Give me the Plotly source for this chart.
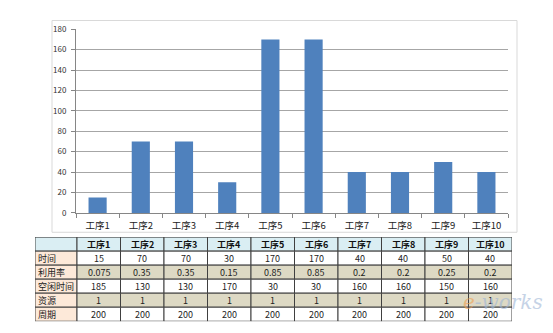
import plotly.graph_objects as go

categories = ["工序1", "工序2", "工序3", "工序4", "工序5", "工序6", "工序7", "工序8", "工序9", "工序10"]
time_vals = [15, 70, 70, 30, 170, 170, 40, 40, 50, 40]
util_vals = ["0.075", "0.35", "0.35", "0.15", "0.85", "0.85", "0.2", "0.2", "0.25", "0.2"]
idle_vals = [185, 130, 130, 170, 30, 30, 160, 160, 150, 160]
res_vals = [1, 1, 1, 1, 1, 1, 1, 1, 1, 1]
cycle_vals = [200, 200, 200, 200, 200, 200, 200, 200, 200, 200]
row_labels = ["时间", "利用率", "空闲时间", "资源", "周期"]
y_ticks = [0, 20, 40, 60, 80, 100, 120, 140, 160, 180]

W, H = 553, 333
FONT = "Noto Sans CJK SC, DejaVu Sans, sans-serif"

fig = go.Figure()

fig.add_trace(go.Bar(
    x=categories, y=time_vals,
    marker=dict(color="#4F81BD", line=dict(width=0)),
    width=0.42,
    showlegend=False,
    xaxis="x", yaxis="y",
))

# ---- table drawn on its own axes (x2 / y2) ----
col_widths = [42] + [43.5] * len(categories)
edges = [0]
for w in col_widths:
    edges.append(edges[-1] + w)
n_rows = 1 + len(row_labels)

rows = [[""] + [f"<b>{c}</b>" for c in categories]]
data_rows = [
    [str(v) for v in time_vals],
    list(util_vals),
    [str(v) for v in idle_vals],
    [str(v) for v in res_vals],
    [str(v) for v in cycle_vals],
]
for lab, vals in zip(row_labels, data_rows):
    rows.append([lab] + vals)

band = ["#FFFFFF", "#DDD9C4", "#FFFFFF", "#DDD9C4", "#FFFFFF"]
shapes = []
annotations = []
for r in range(n_rows):
    for c in range(len(col_widths)):
        if r == 0:
            fill = "#DAEEF3"
        elif c == 0:
            fill = "#FDE9D9"
        else:
            fill = band[r - 1]
        shapes.append(dict(
            type="rect", xref="x2", yref="y2",
            x0=edges[c], x1=edges[c + 1], y0=r, y1=r + 1,
            fillcolor=fill, line=dict(color="#404040", width=1), layer="above",
        ))
        txt = rows[r][c]
        if txt:
            left = (c == 0 and r > 0)
            annotations.append(dict(
                xref="x2", yref="y2",
                x=edges[c] + 1 if left else (edges[c] + edges[c + 1]) / 2,
                y=r + 0.5,
                xanchor="left" if left else "center", yanchor="middle",
                text=txt, showarrow=False,
                font=dict(family=FONT, size=9, color="#111111" if r == 0 else "#222222"),
            ))

# invisible anchor trace for table axes
fig.add_trace(go.Scatter(
    x=[edges[0], edges[-1]], y=[0, n_rows], mode="markers",
    marker=dict(opacity=0), hoverinfo="skip", showlegend=False,
    xaxis="x2", yaxis="y2",
))

# chart border
shapes.append(dict(
    type="rect", xref="paper", yref="paper",
    x0=52 / W, x1=517 / W, y0=(H - 234) / H, y1=(H - 15) / H,
    line=dict(color="#D9D9D9", width=1), fillcolor="rgba(0,0,0,0)", layer="below",
))

annotations.append(dict(
    xref="paper", yref="paper", x=545 / W, y=(H - 306) / H,
    xanchor="right", yanchor="middle", showarrow=False,
    text="<i><span style='color:#F0A050'>e</span>-works</i>",
    font=dict(family="DejaVu Serif", size=20, color="#9FB6D6"),
    opacity=0.6,
))

fig.update_layout(
    width=W, height=H,
    margin=dict(l=0, r=0, t=0, b=0),
    paper_bgcolor="white",
    plot_bgcolor="white",
    font=dict(family=FONT),
    xaxis=dict(
        domain=[76 / W, 508 / W],
        anchor="y",
        showgrid=False,
        showline=True, linecolor="#868686", linewidth=1,
        ticks="outside", tickson="boundaries", ticklen=4, tickcolor="#868686",
        tickfont=dict(family=FONT, size=9.5, color="#222222"),
        ticklabelstandoff=4,
        fixedrange=True,
    ),
    yaxis=dict(
        domain=[(H - 214) / H, (H - 24) / H],
        anchor="x",
        range=[0, 180],
        tickvals=y_ticks,
        showgrid=True, gridcolor="#A6A6A6", gridwidth=1,
        showline=True, linecolor="#868686", linewidth=1,
        ticks="outside", ticklen=4, tickcolor="#868686",
        tickfont=dict(family=FONT, size=8, color="#333333"),
        ticklabelstandoff=3,
        zeroline=False,
        fixedrange=True,
    ),
    xaxis2=dict(
        domain=[35 / W, 512 / W], anchor="y2",
        range=[edges[0], edges[-1]],
        visible=False, fixedrange=True,
    ),
    yaxis2=dict(
        domain=[(H - 326) / H, (H - 239) / H], anchor="x2",
        range=[n_rows, 0],
        visible=False, fixedrange=True,
    ),
    bargap=0.58,
    shapes=shapes,
    annotations=annotations,
)

fig.write_html("out.html")
